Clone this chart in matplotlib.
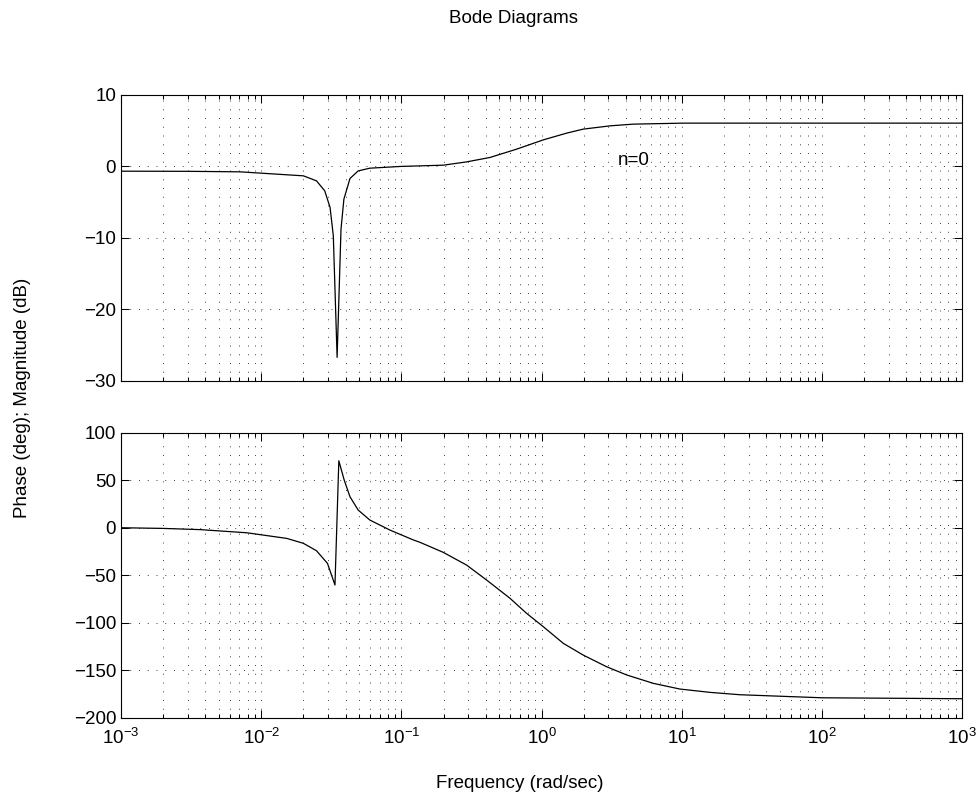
import matplotlib
matplotlib.use('Agg')
import matplotlib.pyplot as plt
from matplotlib.ticker import LogLocator, NullFormatter

plt.rcParams['font.family'] = ['Liberation Sans', 'DejaVu Sans']
plt.rcParams['mathtext.fontset'] = 'custom'
plt.rcParams['mathtext.rm'] = 'Liberation Sans'
plt.rcParams['mathtext.it'] = 'Liberation Sans:italic'

# magnitude curve
mag_freq = [0.001, 0.003, 0.00706, 0.0200, 0.0248, 0.0284, 0.0310, 0.0327,
            0.0348, 0.0371, 0.0389, 0.0430, 0.0492, 0.0596, 0.098, 0.199,
            0.292, 0.429, 0.664, 1.03, 1.51, 1.98, 3.08, 4.51, 10.3, 1000]
mag_db = [-0.66, -0.68, -0.75, -1.31, -2.01, -3.41, -5.73, -9.71,
          -26.7, -8.77, -4.57, -1.68, -0.62, -0.24, 0.0, 0.18,
          0.64, 1.26, 2.42, 3.72, 4.66, 5.22, 5.68, 5.92, 6.06, 6.06]

# phase curve
ph_freq = [0.001, 0.002, 0.0037, 0.0079, 0.0152, 0.0200, 0.0248, 0.0297,
           0.0336, 0.0358, 0.0391, 0.0430, 0.0492, 0.0596, 0.0827, 0.122,
           0.136, 0.199, 0.292, 0.406, 0.596, 0.782, 1.03, 1.43, 1.98,
           2.91, 4.05, 6.27, 9.7, 15.9, 26.0, 100, 1000]
ph_deg = [0.0, -0.7, -2.0, -5.3, -11.2, -16.4, -24.2, -37.5,
          -60.3, 70.5, 50.2, 32.6, 18.6, 8.1, -2.4, -12.9,
          -15.4, -25.9, -39.3, -55.1, -74.3, -90.1, -104.2, -121.7, -134.0,
          -146.3, -155.0, -163.8, -169.8, -173.3, -175.8, -179.0, -180.0]

mag_ticks = [-30, -20, -10, 0, 10]
ph_ticks = [-200, -150, -100, -50, 0, 50, 100]
note = 'n=0'
note_pos = (3.48, 0.78)

fs = 13.5

fig = plt.figure(figsize=(9.76, 7.98), dpi=100)
ax1 = fig.add_axes([0.124, 0.5226, 0.8617, 0.3584])
ax2 = fig.add_axes([0.124, 0.1006, 0.8617, 0.3571])

grid_kw = dict(color='0.25', linestyle=(0, (1, 8)), linewidth=0.7)

for ax in (ax1, ax2):
    ax.set_xscale('log')
    ax.set_xlim(1e-3, 1e3)
    ax.xaxis.set_major_locator(LogLocator(base=10, numticks=10))
    ax.xaxis.set_minor_locator(LogLocator(base=10, subs=range(2, 10), numticks=20))
    ax.xaxis.set_minor_formatter(NullFormatter())
    ax.tick_params(which='both', direction='in', top=True, right=True,
                   labelsize=fs, width=0.75)
    ax.tick_params(which='major', length=6)
    ax.tick_params(which='minor', length=3)
    ax.tick_params(axis='x', pad=7)
    ax.grid(True, which='major', axis='both', **grid_kw)
    ax.grid(True, which='minor', axis='x', **grid_kw)
    for s in ax.spines.values():
        s.set_linewidth(0.8)

ax1.plot(mag_freq, mag_db, color='black', linewidth=0.9)
ax1.set_ylim(-30, 10)
ax1.set_yticks(mag_ticks)
ax1.tick_params(labelbottom=False)
ax1.text(note_pos[0], note_pos[1], note, fontsize=fs, ha='left', va='center')

ax2.plot(ph_freq, ph_deg, color='black', linewidth=0.9)
ax2.set_ylim(-200, 100)
ax2.set_yticks(ph_ticks)

fig.text(0.526, 0.977, 'Bode Diagrams', ha='center', va='center', fontsize=fs)
fig.text(0.023, 0.502, 'Phase (deg); Magnitude (dB)', rotation=90,
         ha='center', va='center', fontsize=fs)
fig.text(0.533, 0.018, 'Frequency (rad/sec)', ha='center', va='center', fontsize=fs)

fig.savefig('out.png', dpi=100)
